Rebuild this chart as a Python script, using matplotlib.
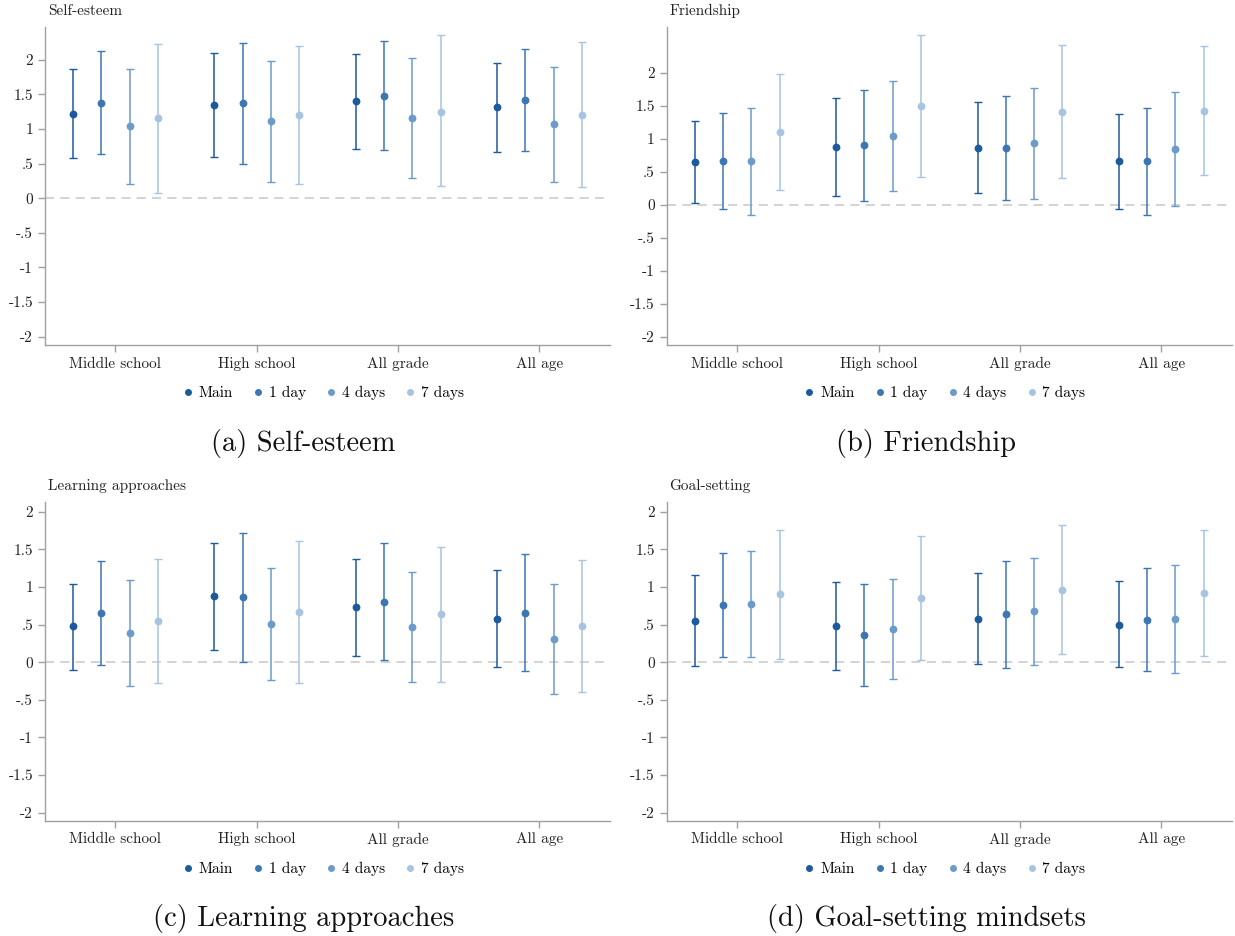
import matplotlib
matplotlib.use("Agg")
import matplotlib.pyplot as plt
from matplotlib.lines import Line2D
import numpy as np

plt.rcParams["font.family"] = ["cmr10", "DejaVu Serif"]
plt.rcParams["mathtext.fontset"] = "cm"
plt.rcParams["axes.formatter.use_mathtext"] = True

groups = ["Middle school", "High school", "All grade", "All age"]
series = ["Main", "1 day", "4 days", "7 days"]
colors = ["#1c5a9c", "#3c76b3", "#6b9bca", "#a7c4e1"]

# point estimates and 95% bounds, rows = series, cols = groups
esteem_pt = [[1.22, 1.34, 1.40, 1.31], [1.38, 1.37, 1.48, 1.42],
             [1.04, 1.11, 1.15, 1.07], [1.15, 1.20, 1.25, 1.20]]
esteem_lo = [[0.58, 0.60, 0.71, 0.66], [0.64, 0.50, 0.69, 0.68],
             [0.20, 0.24, 0.29, 0.24], [0.08, 0.20, 0.17, 0.16]]
esteem_hi = [[1.87, 2.09, 2.08, 1.95], [2.12, 2.24, 2.27, 2.16],
             [1.87, 1.98, 2.02, 1.90], [2.23, 2.20, 2.35, 2.25]]

friend_pt = [[0.64, 0.88, 0.86, 0.66], [0.66, 0.90, 0.86, 0.66],
             [0.66, 1.04, 0.93, 0.84], [1.10, 1.49, 1.40, 1.42]]
friend_lo = [[0.02, 0.13, 0.17, -0.07], [-0.07, 0.06, 0.07, -0.16],
             [-0.15, 0.20, 0.09, -0.02], [0.22, 0.42, 0.40, 0.45]]
friend_hi = [[1.27, 1.62, 1.56, 1.38], [1.39, 1.74, 1.64, 1.47],
             [1.47, 1.88, 1.77, 1.70], [1.98, 2.57, 2.42, 2.41]]

learn_pt = [[0.48, 0.88, 0.73, 0.57], [0.65, 0.86, 0.80, 0.66],
            [0.39, 0.51, 0.47, 0.31], [0.55, 0.67, 0.64, 0.48]]
learn_lo = [[-0.10, 0.16, 0.08, -0.06], [-0.04, 0.00, 0.03, -0.12],
            [-0.32, -0.24, -0.26, -0.42], [-0.28, -0.28, -0.26, -0.40]]
learn_hi = [[1.04, 1.59, 1.37, 1.22], [1.35, 1.72, 1.59, 1.44],
            [1.09, 1.25, 1.20, 1.04], [1.37, 1.61, 1.53, 1.36]]

goal_pt = [[0.55, 0.48, 0.58, 0.50], [0.76, 0.36, 0.64, 0.56],
           [0.77, 0.44, 0.68, 0.57], [0.90, 0.85, 0.96, 0.92]]
goal_lo = [[-0.05, -0.10, -0.02, -0.07], [0.07, -0.31, -0.08, -0.12],
           [0.07, -0.23, -0.04, -0.15], [0.04, 0.03, 0.11, 0.08]]
goal_hi = [[1.16, 1.07, 1.19, 1.08], [1.45, 1.04, 1.35, 1.25],
           [1.48, 1.11, 1.39, 1.29], [1.76, 1.68, 1.82, 1.76]]

yticks = [-2, -1.5, -1, -0.5, 0, 0.5, 1, 1.5, 2]
ytick_labels = ["-2", "-1.5", "-1", "-.5", "0", ".5", "1", "1.5", "2"]
offsets = [-0.3, -0.1, 0.1, 0.3]

panels = [
    ("Self-esteem", "(a) Self-esteem", esteem_pt, esteem_lo, esteem_hi, (-2.12, 2.47),
     [0.0363, 0.6314, 0.4577, 0.3397], 0.2458),
    ("Friendship", "(b) Friendship", friend_pt, friend_lo, friend_hi, (-2.126, 2.69),
     [0.5398, 0.6314, 0.4577, 0.3397], 0.7498),
    ("Learning approaches", "(c) Learning approaches", learn_pt, learn_lo, learn_hi, (-2.106, 2.125),
     [0.0363, 0.1232, 0.4577, 0.3402], 0.2458),
    ("Goal-setting", "(d) Goal-setting mindsets", goal_pt, goal_lo, goal_hi, (-2.106, 2.125),
     [0.5398, 0.1232, 0.4577, 0.3402], 0.7498),
]

fig = plt.figure(figsize=(12.35, 9.36), dpi=100)
x = np.arange(len(groups))

# marker-only handles for the legend
handles = [Line2D([], [], ls="none", marker="o", ms=4.0, color=c, label=s)
           for s, c in zip(series, colors)]

for title, caption, pt, lo, hi, ylim, rect, cx in panels:
    ax = fig.add_axes(rect)
    ax.axhline(0, color="#c8c8c8", lw=1.1, ls=(0, (6, 4)), zorder=1)
    for i, name in enumerate(series):
        p = np.array(pt[i])
        err = [p - np.array(lo[i]), np.array(hi[i]) - p]
        ax.errorbar(x + offsets[i], p, yerr=err, fmt="o", color=colors[i],
                    ms=4.6, elinewidth=1.1, capsize=2.6, capthick=1.0,
                    zorder=3)
    ax.set_xlim(-0.5, 3.5)
    ax.set_ylim(*ylim)
    ax.set_xticks(x)
    ax.set_xticklabels(groups, fontsize=11)
    ax.set_yticks(yticks)
    ax.set_yticklabels(ytick_labels, fontsize=11)
    for s in ["top", "right"]:
        ax.spines[s].set_visible(False)
    for s in ["left", "bottom"]:
        ax.spines[s].set_color("#a0a0a0")
        ax.spines[s].set_linewidth(1.0)
    ax.tick_params(axis="both", colors="#a0a0a0", labelcolor="#222222",
                   length=5, width=1.0)
    ax.text(0.005, 1.03, title, transform=ax.transAxes, fontsize=11,
            ha="left", va="bottom", color="#222222")
    ax.legend(handles=handles, loc="center", bbox_to_anchor=(0.49, -0.151),
              ncol=4, frameon=False, fontsize=11, handletextpad=0.2,
              columnspacing=1.15, handlelength=1.0)
    # caption under each panel
    fig.text(cx, rect[1] - 0.105, caption, fontsize=20.5, ha="center",
             va="center", color="#111111")

fig.savefig("out.png", dpi=100)
